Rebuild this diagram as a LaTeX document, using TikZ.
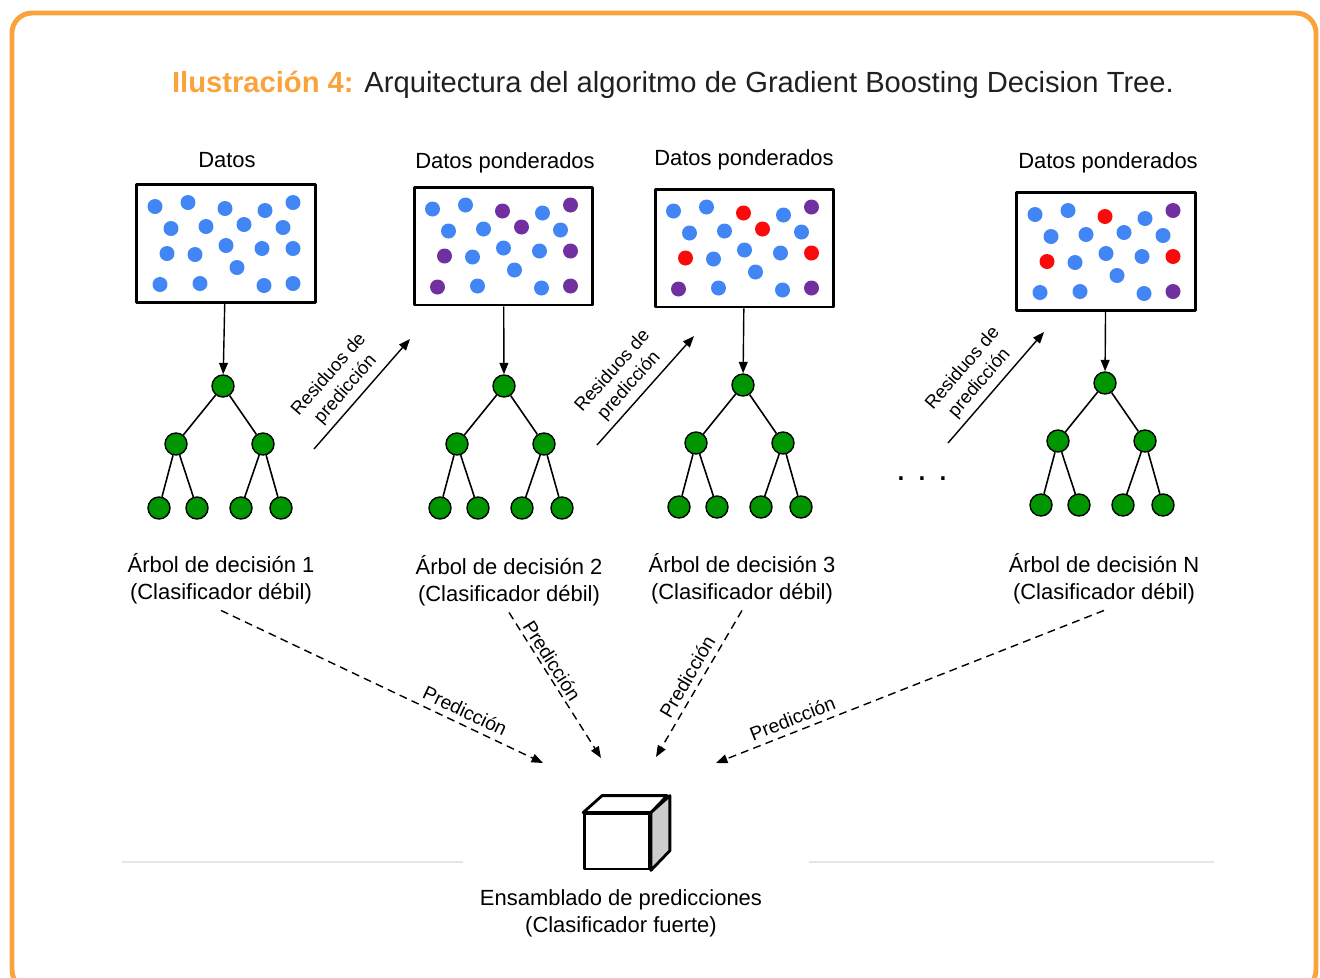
\documentclass[tikz,border=0pt]{standalone}
\usepackage{fontspec}
\setmainfont{Liberation Sans}
\usetikzlibrary{arrows.meta}
\definecolor{naranja}{RGB}{250,163,60}
\definecolor{gristexto}{RGB}{35,31,32}
\definecolor{p0}{RGB}{66,133,244}
\definecolor{p1}{RGB}{112,48,160}
\definecolor{p2}{RGB}{250,10,10}
\definecolor{verde}{RGB}{0,150,0}
% posiciones de los puntos respecto al centro de cada caja
\def\puntos{-71/-37,-38/-41,-1/-35,39/-33,67/-41,-55/-15,-20/-17,18/-19,57/-16,-59/10,-31/11,0/2,36/5,67/5,11/24,-66/41,-26/40,38/42,67/40}
% 0 azul, 1 morado, 2 rojo
\def\colA{{0,0,0,0,0,0,0,0,0,0,0,0,0,0,0,0,0,0,0}}
\def\colB{{0,0,1,0,1,0,0,1,0,1,0,0,0,1,0,1,0,0,1}}
\def\colC{{0,0,2,0,1,0,0,2,0,2,0,0,0,2,0,1,0,0,1}}
\def\colD{{0,0,2,0,1,0,0,0,0,2,0,0,0,2,0,0,0,0,1}}
\begin{document}
\begin{tikzpicture}[x=0.02cm, y=-0.02cm, line join=round, font=\fontsize{12.5}{15.3}\selectfont,
  >={Triangle[length=6.5pt,width=5pt]},
  caja/.style={draw, line width=1.7pt, minimum width=3.58cm, minimum height=2.36cm, inner sep=0},
  punto/.style={circle, fill=#1, inner sep=0, minimum size=0.3cm},
  hoja/.style={circle, draw, line width=0.8pt, fill=verde, inner sep=0, minimum size=0.44cm},
  rama/.style={line width=0.9pt},
  res/.style={->, line width=0.8pt},
  pred/.style={->, line width=0.8pt, dash pattern=on 4.5pt off 3pt},
  etiq/.style={font=\fontsize{10.5}{12.6}\selectfont, align=center},
  etpred/.style={font=\fontsize{11}{13}\selectfont}]
\useasboundingbox (0,0) rectangle (1320,978);
\draw[naranja, line width=2.8pt, rounded corners=0.4cm] (12,13) rectangle (1316,990);
\node[text=gristexto, font=\fontsize{16.6}{20}\selectfont] (titulo) at (673,85)
  {\textcolor{naranja}{\bfseries Ilustración 4:} Arquitectura del algoritmo de Gradient Boosting Decision Tree.};

% cajas de datos
\foreach \i/\cx/\cy/\tx/\ty/\tit/\lista in {1/226/243.5/227/160/Datos/\colA,
    2/503.5/246/505/163/Datos ponderados/\colB, 3/744.5/248/744/160/Datos ponderados/\colC,
    4/1106/251.5/1108/163/Datos ponderados/\colD}{
  \node[caja] (caja\i) at (\cx,\cy) {};
  \node (datos\i) at (\tx,\ty) {\tit};
  \foreach \dx/\dy [count=\k from 0] in \puntos {
    \pgfmathtruncatemacro\c{\lista[\k]}
    \node[punto=p\c] (d\i-\k) at (\cx+\dx,\cy+\dy) {};
  }
}

% arboles
\foreach \i/\rx/\ry/\lx/\ly/\num in {1/223/386/221/579/1, 2/504/386/509/581/2,
    3/743/385/742/579/3, 4/1105/383/1104/579/N}{
  \node[hoja] (r\i) at (\rx,\ry) {};
  \node[hoja] (a\i) at (\rx-47,\ry+58) {};
  \node[hoja] (b\i) at (\rx+40,\ry+58) {};
  \foreach \h/\dx in {1/-64,2/-26,3/18,4/58}
    \node[hoja] (h\i\h) at (\rx+\dx,\ry+122) {};
  \draw[rama] (r\i)--(a\i) (r\i)--(b\i) (a\i)--(h\i1) (a\i)--(h\i2) (b\i)--(h\i3) (b\i)--(h\i4);
  \draw[->, line width=0.8pt] (caja\i) -- (r\i);
  \node[align=center] (arbol\i) at (\lx,\ly) {Árbol de decisión \num\\(Clasificador débil)};
}
\node[font=\fontsize{20}{20}\selectfont] (suspensivos) at (922,479) {.\hspace{6.4pt}.\hspace{6.4pt}.};

% residuos
\coordinate (s1) at (314,449); \coordinate (t1) at (410,339);
\coordinate (s2) at (597,445); \coordinate (t2) at (694,336);
\coordinate (s3) at (948,443); \coordinate (t3) at (1044,332);
\foreach \i in {1,2,3}
  \draw[res] (s\i) -- (t\i) node[etiq, pos=0.45, sloped, above] {Residuos de\\predicción};

% ensamblado
\node[draw, line width=1.6pt, minimum width=1.3cm, minimum height=1.1cm] (cubo) at (617,841.5) {};
\draw[line width=1.6pt, fill=white] (cubo.north west) -- ++(19,-17) -- ++(65,0) -- (cubo.north east) -- cycle;
\draw[line width=1.6pt, fill=gray!40] (cubo.north east) -- ++(19,-17) -- ++(0,55) -- (cubo.south east) -- cycle;
\node[align=center] (ensamblado) at (621,913) {Ensamblado de predicciones\\(Clasificador fuerte)};
\draw[black!10, line width=1.2pt] (122,862) -- (463,862) (809,862) -- (1214,862);

% predicciones
\coordinate (e1) at (543,763); \coordinate (e2) at (601,758);
\coordinate (e3) at (656,757); \coordinate (e4) at (716,763);
\draw[pred] (arbol1.south) -- (e1) node[etpred, pos=0.74, sloped, above] {Predicción};
\draw[pred] (arbol2.south) -- (e2) node[etpred, pos=0.37, sloped, above, inner sep=1.6pt] {Predicción};
\draw[pred] (arbol3.south) -- (e3) node[etpred, pos=0.5, sloped, above] {Predicción};
\draw[pred] (arbol4.south) -- (e4) node[etpred, pos=0.79, sloped, above] {Predicción};
\end{tikzpicture}
\end{document}
